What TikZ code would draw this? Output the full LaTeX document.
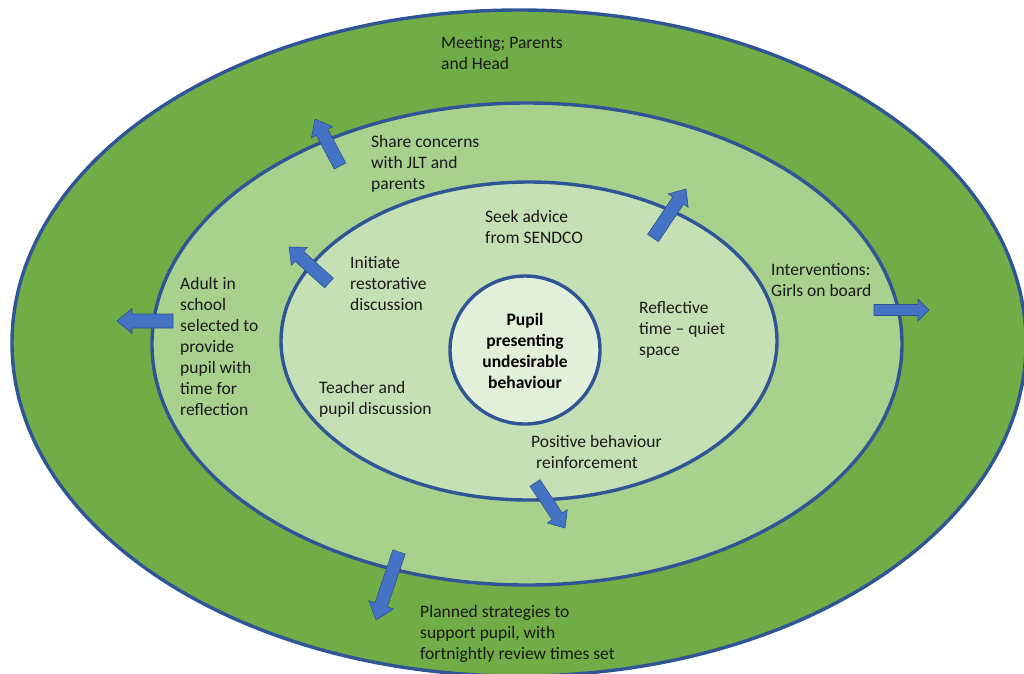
\documentclass[tikz,border=0pt]{standalone}
\usepackage{fontspec}
\setmainfont{Carlito}
\usetikzlibrary{calc}
\definecolor{gOuter}{HTML}{70AD47}
\definecolor{gMid}{HTML}{A9D18E}
\definecolor{gInner}{HTML}{C5E0B4}
\definecolor{gCore}{HTML}{E2F0D9}
\definecolor{ringBlue}{HTML}{2F5597}
\definecolor{arrBlue}{HTML}{4472C4}
\definecolor{arrLine}{HTML}{2F528F}
\tikzset{
  ring/.style={draw=ringBlue, line width=3.4pt},
  barrow/.style={fill=arrBlue, draw=arrLine, line width=0.6pt, line join=miter},
  lbl/.style={anchor=north west, align=left, inner sep=0pt, text=black!90,
              font=\fontsize{17.5}{21}\selectfont},
  corelbl/.style={anchor=north, align=center, inner sep=0pt, text=black,
              font=\fontsize{17.5}{21}\selectfont\bfseries},
}
% tail, tip, shaft half width, head half width, head length (pt)
\newcommand\blockarrow[5]{%
  \filldraw[barrow] let \p1=($(#2)-(#1)$), \n1={atan2(\y1,\x1)},
    \n2={veclen(\x1,\y1)-#5pt} in
    ($(#1)+({\n1+90}:#3pt)$)
    -- ($(#1)+(\n1:\n2)+({\n1+90}:#3pt)$)
    -- ($(#1)+(\n1:\n2)+({\n1+90}:#4pt)$)
    -- (#2)
    -- ($(#1)+(\n1:\n2)+({\n1-90}:#4pt)$)
    -- ($(#1)+(\n1:\n2)+({\n1-90}:#3pt)$)
    -- ($(#1)+({\n1-90}:#3pt)$) -- cycle;}
\begin{document}
\begin{tikzpicture}[x=1pt,y=-1pt]
\useasboundingbox (0,0) rectangle (1024,673);
\clip (0,0) rectangle (1024,673);
\fill[white] (0,0) rectangle (1024,673);
% rings
\draw[ring, fill=gOuter] (519,343) ellipse [x radius=507pt, y radius=333pt];
\draw[ring, fill=gMid]   (527,344) ellipse [x radius=375pt, y radius=241pt];
\draw[ring, fill=gInner] (529,341) ellipse [x radius=248pt, y radius=159pt];
\draw[ring, fill=gCore]  (525,350) ellipse [x radius=75pt, y radius=74pt];
% arrow end points
\coordinate (shareT) at (340,166);  \coordinate (shareH) at (315,119);
\coordinate (initT)  at (329,283);  \coordinate (initH)  at (289,247);
\coordinate (seekT)  at (653,238);  \coordinate (seekH)  at (686,189);
\coordinate (adultT) at (173,321);  \coordinate (adultH) at (117,321);
\coordinate (intT)   at (874,310);  \coordinate (intH)   at (929,310);
\coordinate (posT)   at (535,483);  \coordinate (posH)   at (565,528);
\coordinate (planT)  at (399,552);  \coordinate (planH)  at (376,620);
\blockarrow{shareT}{shareH}{6.5}{12}{15}
\blockarrow{initT}{initH}{6.5}{12}{14}
\blockarrow{seekT}{seekH}{6.5}{12}{14}
\blockarrow{adultT}{adultH}{7}{12.5}{15}
\blockarrow{intT}{intH}{5.5}{11}{11}
\blockarrow{posT}{posH}{6}{12}{14}
\blockarrow{planT}{planH}{6.5}{13}{16}
% labels
\node[lbl] (meet) at (441,33.3) {\strut Meeting; Parents\\and Head};
\node[lbl] (share) at (371,132.3) {\strut Share concerns\\with JLT and\\parents};
\node[lbl] (seek) at (485,207.3) {\strut Seek advice\\from SENDCO};
\node[lbl] (init) at (350,253.3) {\strut Initiate\\restorative\\discussion};
\node[lbl] (adult) at (180,274.3) {\strut Adult in\\school\\selected to\\provide\\pupil with\\time for\\reflection};
\node[lbl] (interv) at (771,260.3) {\strut Interventions:\\Girls on board};
\node[lbl] (refl) at (639,298.3) {\strut Reflective\\time -- quiet\\space};
\node[corelbl] (pupil) at (525,310.3) {\strut Pupil\\presenting\\undesirable\\behaviour};
\node[lbl] (teacher) at (319,378.3) {\strut Teacher and\\pupil discussion};
\node[lbl] (pos) at (531,432.3) {\strut Positive behaviour\\\hspace*{5pt}reinforcement};
\node[lbl] (plan) at (420,602.3) {\strut Planned strategies to\\support pupil, with\\fortnightly review times set};
\end{tikzpicture}
\end{document}
